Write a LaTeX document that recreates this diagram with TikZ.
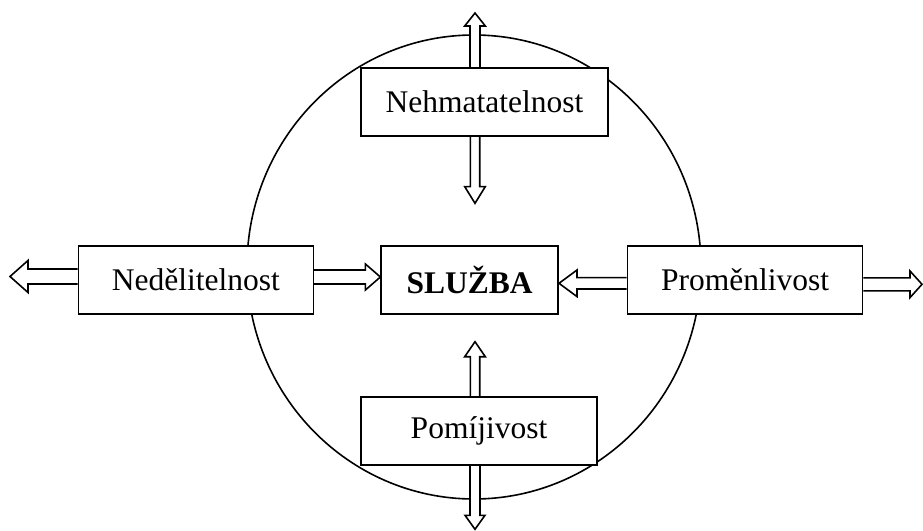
\documentclass[tikz,border=0pt]{standalone}
\usepackage{fontspec}
\setmainfont{Liberation Serif}
\usetikzlibrary{calc,backgrounds}

\tikzset{
  box/.style={draw,fill=white,line width=1.6pt,inner sep=0pt,minimum height=68pt,
    font=\fontsize{31.5}{36}\selectfont},
  outline/.style={draw,line width=1.6pt},
  % hollow block arrow: shaft half-width, head half-width, head length
  fat/.style n args={3}{to path={
    ($(\tikztostart)!#1!90:(\tikztotarget)$)
    -- ($($(\tikztotarget)!#3!(\tikztostart)$)!#1!-90:(\tikztostart)$)
    -- ($($(\tikztotarget)!#3!(\tikztostart)$)!#2!-90:(\tikztostart)$)
    -- (\tikztotarget)
    -- ($($(\tikztotarget)!#3!(\tikztostart)$)!#2!90:(\tikztostart)$)
    -- ($($(\tikztotarget)!#3!(\tikztostart)$)!#1!90:(\tikztostart)$)
    -- ($(\tikztostart)!#1!-90:(\tikztotarget)$)}},
}

\begin{document}
\begin{tikzpicture}[x=1pt,y=-1pt]
    \useasboundingbox (0,0) rectangle (923,530);
    \node[box,minimum width=247pt] (neh) at (484.5,102) {Nehmatatelnost};
    \node[box,minimum width=235pt] (ned) at (195.8,280) {Nedělitelnost};
    \node[box,minimum width=177pt] (sluz) at (469.7,280) {\textbf{SLUŽBA}};
    \node[box,minimum width=235pt] (prom) at (745,280) {Proměnlivost};
    \node[box,minimum width=236pt] (pom) at (479,431) {Pomíjivost};
    % arrow ends
    \coordinate (nehUp) at (475,13);
    \coordinate (nehDn) at (475,203.3);
    \coordinate (pomUp) at (475,341.7);
    \coordinate (pomDn) at (475,529.3);
    \coordinate (nedOut) at (10,276.5);
    \coordinate (promOut) at (922,284.3);
    \coordinate (nedR) at ($(ned.east)+(0,-3)$);
    \coordinate (sluzL) at ($(sluz.west)+(0,-3)$);
    \coordinate (promL) at ($(prom.west)+(0,3.3)$);
    \coordinate (sluzR) at ($(sluz.east)+(0,3.3)$);
    \begin{scope}[on background layer]
        \draw[outline] (474,267) ellipse [x radius=227pt, y radius=232pt];
        \draw[outline,fill=white] (neh.north -| nehUp) to[fat={5pt}{10.3pt}{13pt}] (nehUp);
        \draw[outline,fill=white] (neh.south -| nehDn) to[fat={4.7pt}{10.3pt}{16.7pt}] (nehDn);
        \draw[outline,fill=white] (pom.north -| pomUp) to[fat={4.7pt}{10.3pt}{15pt}] (pomUp);
        \draw[outline,fill=white] (pom.south -| pomDn) to[fat={5pt}{10pt}{14pt}] (pomDn);
        \draw[outline,fill=white] (ned.west |- nedOut) to[fat={7.5pt}{16pt}{18pt}] (nedOut);
        \draw[outline,fill=white] (nedR) to[fat={7pt}{13pt}{15pt}] (sluzL);
        \draw[outline,fill=white] (promL) to[fat={5.7pt}{13.3pt}{18pt}] (sluzR);
        \draw[outline,fill=white] (prom.east |- promOut) to[fat={6.5pt}{13.3pt}{12pt}] (promOut);
    \end{scope}
\end{tikzpicture}
\end{document}
